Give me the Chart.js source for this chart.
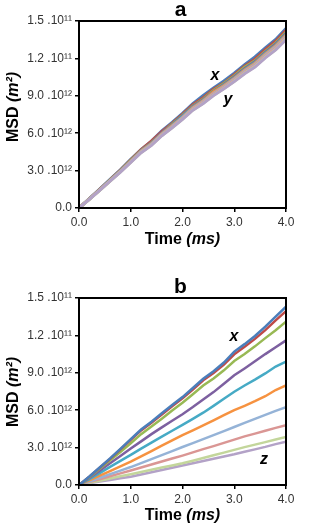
<!DOCTYPE html>
<html>
<head>
<meta charset="utf-8">
<script src="https://cdn.jsdelivr.net/npm/chart.js@4.4.1/dist/chart.umd.min.js"></script>
<style>
  html, body { margin:0; padding:0; background:#fff; }
  body { width:318px; height:528px; position:relative; overflow:hidden; }
  canvas { position:absolute; left:0; }
  #ca { top:0; }
  #cb { top:270px; }
</style>
</head>
<body>
<canvas id="ca" width="318" height="255"></canvas>
<canvas id="cb" width="318" height="258"></canvas>
<script>
// ---- data (MSD in units of 10^10 m^2, time in ms) ----
const times = [0,0.2,0.4,0.6,0.8,1.0,1.2,1.4,1.6,1.8,2.0,2.2,2.4,2.6,2.8,3.0,3.2,3.4,3.6,3.8,4.0];
const yTickValues = [0,3,6,9,12,15];
const yTickLabels = ["0.0","3.0 .10\u00b9\u00b2","6.0 .10\u00b9\u00b2","9.0 .10\u00b9\u00b2","1.2 .10\u00b9\u00b9","1.5 .10\u00b9\u00b9"];
const xTickValues = [0,1,2,3,4];
const xTickLabels = ["0.0","1.0","2.0","3.0","4.0"];

// panel a
const a1 = [0,0.75,1.51,2.29,3.07,3.90,4.68,5.36,6.19,6.86,7.59,8.37,9.02,9.62,10.19,10.82,11.49,12.12,12.84,13.52,14.40];
const a2 = [0,0.74,1.49,2.26,3.04,3.86,4.68,5.36,6.12,6.79,7.51,8.28,8.85,9.52,10.02,10.70,11.37,11.94,12.71,13.38,14.25];
const a3 = [0,0.73,1.48,2.24,3.00,3.82,4.63,5.24,6.00,6.72,7.43,8.19,8.75,9.42,9.98,10.59,11.30,11.81,12.57,13.23,14.10];
const a4 = [0,0.73,1.47,2.22,2.98,3.79,4.60,5.21,6.02,6.67,7.38,8.14,8.69,9.35,9.91,10.51,11.17,11.73,12.49,13.14,14.00];
const a5 = [0,0.72,1.46,2.21,2.96,3.77,4.57,5.17,5.97,6.63,7.33,8.08,8.63,9.29,9.84,10.44,11.09,11.65,12.40,13.05,13.90];
const a6 = [0,0.72,1.45,2.20,2.95,3.75,4.55,5.15,5.95,6.60,7.25,8.05,8.60,9.30,9.80,10.40,11.05,11.60,12.35,13.00,13.85];
const a7 = [0,0.71,1.44,2.18,2.93,3.72,4.52,5.11,5.91,6.55,7.25,7.99,8.54,9.19,9.73,10.33,10.97,11.52,12.26,12.91,13.75];
const a8 = [0,0.71,1.43,2.17,2.91,3.70,4.49,5.08,5.87,6.51,7.20,7.94,8.48,9.12,9.66,10.25,10.90,11.44,12.18,12.82,13.65];
const a9 = [0,0.70,1.42,2.15,2.89,3.67,4.45,5.04,5.82,6.45,7.14,7.87,8.41,9.05,9.58,10.17,10.81,11.34,12.08,12.71,13.55];
const a10 = [0,0.70,1.41,2.15,2.88,3.66,4.44,5.02,5.80,6.44,7.12,7.85,8.39,9.02,9.56,10.14,10.77,11.31,12.04,12.68,13.50];

// panel b
const b1 = [0,0.68,1.40,2.13,2.90,3.68,4.45,5.08,5.75,6.42,7.05,7.78,8.52,9.12,9.82,10.70,11.30,11.95,12.70,13.50,14.30];
const b2 = [0,0.67,1.38,2.10,2.86,3.62,4.38,5.00,5.66,6.32,6.95,7.66,8.40,8.98,9.66,10.48,11.08,11.72,12.42,13.20,13.95];
const b3 = [0,0.63,1.30,1.98,2.65,3.35,4.08,4.70,5.32,5.98,6.60,7.28,7.98,8.55,9.20,9.95,10.50,11.12,11.78,12.42,13.10];
const b4 = [0,0.56,1.15,1.74,2.32,2.92,3.50,4.08,4.62,5.15,5.68,6.25,6.85,7.45,8.12,8.80,9.35,9.92,10.50,11.05,11.60];
const b5 = [0,0.46,0.95,1.45,1.93,2.42,2.92,3.40,3.88,4.35,4.82,5.30,5.80,6.35,6.92,7.48,7.98,8.45,8.95,9.50,9.90];
const b6 = [0,0.37,0.75,1.12,1.50,1.88,2.30,2.72,3.15,3.58,4.00,4.38,4.78,5.18,5.60,6.00,6.35,6.72,7.12,7.62,8.00];
const b7 = [0,0.28,0.58,0.87,1.15,1.44,1.76,2.08,2.40,2.72,3.05,3.36,3.68,4.00,4.32,4.65,4.98,5.30,5.62,5.95,6.25];
const b8 = [0,0.23,0.46,0.70,0.93,1.16,1.40,1.64,1.88,2.12,2.36,2.62,2.88,3.12,3.38,3.64,3.90,4.12,4.35,4.58,4.80];
const b9 = [0,0.17,0.34,0.52,0.70,0.87,1.04,1.22,1.40,1.57,1.75,1.95,2.16,2.38,2.60,2.82,3.04,3.24,3.44,3.65,3.85];
const b10 = [0,0.13,0.27,0.40,0.54,0.67,0.84,1.02,1.20,1.38,1.56,1.74,1.92,2.10,2.28,2.46,2.66,2.86,3.06,3.28,3.48];

const colors = ["#4a7ebb","#be4b48","#98b954","#7d60a0","#46aac5","#f69240","#95b3d7","#da9694","#c3d69b","#b3a2c7"];
const seriesA = [a1,a2,a3,a4,a5,a6,a7,a8,a9,a10];
const seriesB = [b1,b2,b3,b4,b5,b6,b7,b8,b9,b10];

const FONT = "'Liberation Sans', Arial, sans-serif";

function mixedText(ctx, parts, x, y) {
  let total = 0;
  parts.forEach(p => { ctx.font = p.f; p.w = ctx.measureText(p.t).width; total += p.w; });
  let cx = x - total/2;
  ctx.textAlign = 'left';
  parts.forEach(p => { ctx.font = p.f; ctx.fillText(p.t, cx, y); cx += p.w; });
}

function makeDecor(cfg) {
  return {
    id: 'decor',
    afterDraw(chart) {
      const ctx = chart.ctx, ca = chart.chartArea;
      ctx.save();
      ctx.strokeStyle = '#000';
      ctx.lineWidth = 2;
      ctx.strokeRect(ca.left, ca.top, ca.right - ca.left, ca.bottom - ca.top);
      ctx.fillStyle = '#000';
      ctx.textBaseline = 'alphabetic';
      ctx.font = 'bold 21px ' + FONT;
      ctx.textAlign = 'center';
      ctx.fillText(cfg.letter, (ca.left + ca.right)/2 - 2, ca.top - 5);
      ctx.textBaseline = 'middle';
      mixedText(ctx, [
        {t:'Time ', f:'bold 16px ' + FONT},
        {t:'(ms)', f:'italic bold 16px ' + FONT}
      ], (ca.left + ca.right)/2, cfg.xTitleY);
      ctx.save();
      ctx.translate(14, cfg.yTitleY);
      ctx.rotate(-Math.PI/2);
      mixedText(ctx, [
        {t:'MSD ', f:'bold 16px ' + FONT},
        {t:'(m\u00b2)', f:'italic bold 16px ' + FONT}
      ], 0, 0);
      ctx.restore();
      ctx.font = 'italic bold 16px ' + FONT;
      ctx.textAlign = 'center';
      cfg.notes.forEach(n => ctx.fillText(n.t, n.x, n.y));
      ctx.restore();
    }
  };
}

function makeChart(id, series, cfg) {
  const n = series.length;
  const datasets = series.map((s, i) => ({
    data: s.map((v, j) => ({x: times[j], y: v})),
    borderColor: colors[i],
    borderWidth: cfg.lw,
    pointRadius: 0,
    tension: 0,
    fill: false,
    order: cfg.reverse ? (n - 1 - i) : i
  }));
  return new Chart(document.getElementById(id), {
    type: 'line',
    data: { datasets },
    options: {
      responsive: false,
      animation: false,
      devicePixelRatio: 1,
      layout: { padding: { top: cfg.top, right: 32, left: 0, bottom: 0 } },
      plugins: { legend: { display: false }, tooltip: { enabled: false }, title: { display: false } },
      scales: {
        x: {
          type: 'linear', min: 0, max: 4,
          afterBuildTicks: s => { s.ticks = xTickValues.map(v => ({value: v})); },
          afterFit: s => { s.height = cfg.xh; },
          ticks: { color: '#333', font: { family: FONT, size: 12 }, padding: 3,
                   callback: v => xTickLabels[xTickValues.indexOf(v)] },
          grid: { drawOnChartArea: false, drawTicks: true, tickLength: 4, color: '#000', lineWidth: 1.5 },
          border: { display: true, color: '#000', width: 2 }
        },
        y: {
          type: 'linear', min: 0, max: 15,
          afterBuildTicks: s => { s.ticks = yTickValues.map(v => ({value: v})); },
          afterFit: s => { s.width = 79; },
          ticks: { color: '#333', font: { family: FONT, size: 12 }, padding: 3,
                   callback: v => yTickLabels[yTickValues.indexOf(v)] },
          grid: { drawOnChartArea: false, drawTicks: true, tickLength: 4, color: '#000', lineWidth: 1.5 },
          border: { display: true, color: '#000', width: 2 }
        }
      }
    },
    plugins: [makeDecor(cfg)]
  });
}

makeChart('ca', seriesA, {
  top: 21, xh: 47, lw: 3, letter: 'a', xTitleY: 240, yTitleY: 107, reverse: true,
  notes: [{t:'x', x:215, y:76}, {t:'y', x:228, y:100}]
});
makeChart('cb', seriesB, {
  top: 28, xh: 43, lw: 2.5, letter: 'b', xTitleY: 246, yTitleY: 122, reverse: false,
  notes: [{t:'x', x:234, y:67}, {t:'z', x:264, y:190}]
});
</script>
</body>
</html>
